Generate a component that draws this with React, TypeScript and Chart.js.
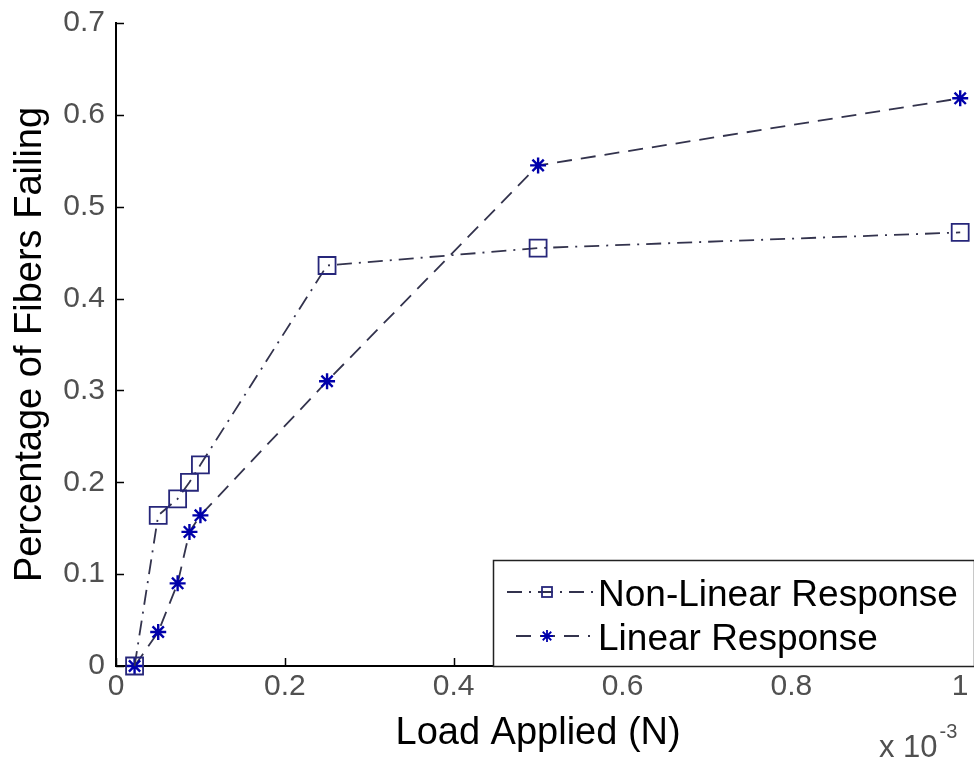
import React, { useEffect, useRef } from "react";
import { Chart, registerables } from "chart.js";

Chart.register(...registerables);

// ---- data (x in units of 1e-3 N) ----
const loadApplied = [0.022, 0.05, 0.073, 0.087, 0.1, 0.25, 0.5, 1.0];
const nonLinearResponse = [0, 0.164, 0.182, 0.2, 0.219, 0.436, 0.455, 0.472];
const linearResponse = [0, 0.037, 0.09, 0.146, 0.164, 0.31, 0.545, 0.618];
const seriesNames = ["Non-Linear Response", "Linear Response"];
const xTickValues = [0, 0.2, 0.4, 0.6, 0.8, 1];
const yTickValues = [0, 0.1, 0.2, 0.3, 0.4, 0.5, 0.6, 0.7];
const xTitle = "Load Applied (N)";
const yTitle = "Percentage of Fibers Failing";
const xMultiplierBase = "x 10";
const xMultiplierExp = "-3";

const FONT = "'Liberation Sans', Arial, Helvetica, sans-serif";
const LINE_COLOR = "#33334d";
const SQUARE_COLOR = "#26267a";
const STAR_COLOR = "#0000aa";
const TICK_COLOR = "#505050";

function drawStar(ctx: CanvasRenderingContext2D, x: number, y: number, r: number) {
  ctx.beginPath();
  for (let i = 0; i < 4; i++) {
    const a = (i * Math.PI) / 4;
    ctx.moveTo(x - r * Math.cos(a), y - r * Math.sin(a));
    ctx.lineTo(x + r * Math.cos(a), y + r * Math.sin(a));
  }
  ctx.stroke();
}

const inwardTicks = {
  id: "inwardTicks",
  afterDraw(chart: any) {
    const { ctx, chartArea, scales } = chart;
    const x = scales.x;
    const y = scales.y;
    ctx.save();
    ctx.strokeStyle = "#000";
    ctx.lineWidth = 1.5;
    ctx.beginPath();
    xTickValues.forEach((v) => {
      const px = Math.round(x.getPixelForValue(v)) + 0.5;
      ctx.moveTo(px, chartArea.bottom);
      ctx.lineTo(px, chartArea.bottom - 8);
    });
    yTickValues.forEach((v) => {
      const py = Math.round(y.getPixelForValue(v)) + 0.5;
      ctx.moveTo(chartArea.left, py);
      ctx.lineTo(chartArea.left + 8, py);
    });
    ctx.stroke();

    // multiplier label
    ctx.fillStyle = TICK_COLOR;
    ctx.textBaseline = "alphabetic";
    ctx.textAlign = "left";
    ctx.font = `31px ${FONT}`;
    ctx.fillText(xMultiplierBase, 879, 757);
    const w = ctx.measureText(xMultiplierBase).width;
    ctx.font = `20px ${FONT}`;
    ctx.fillText(xMultiplierExp, 879 + w + 2, 738);
    ctx.restore();
  },
};

const boxLegend = {
  id: "boxLegend",
  afterDraw(chart: any) {
    const { ctx, chartArea } = chart;
    const datasets = chart.data.datasets;
    const left = 493;
    const right = 974;
    const top = 560;
    const bottom = chartArea.bottom;
    ctx.save();
    ctx.fillStyle = "#fff";
    ctx.fillRect(left, top, right - left, bottom - top);
    ctx.strokeStyle = "#222";
    ctx.lineWidth = 1.5;
    ctx.strokeRect(left + 0.5, top + 0.5, right - left, bottom - top);

    const rows = [596, 640];
    datasets.forEach((ds: any, i: number) => {
      const cy = rows[i];
      const ly = cy - 4;
      ctx.strokeStyle = ds.borderColor;
      ctx.lineWidth = ds.borderWidth;
      ctx.setLineDash(ds.borderDash);
      ctx.beginPath();
      ctx.moveTo(i === 0 ? 507 : 516, ly);
      ctx.lineTo(i === 0 ? 597 : 590, ly);
      ctx.stroke();
      ctx.setLineDash([]);
      ctx.strokeStyle = ds.pointBorderColor;
      ctx.lineWidth = 1.8;
      if (ds.pointStyle === "rect") {
        ctx.strokeRect(542, ly - 5, 10, 10);
      } else {
        drawStar(ctx, 547, ly, 6);
      }
      ctx.fillStyle = "#000";
      ctx.font = `37px ${FONT}`;
      ctx.textAlign = "left";
      ctx.textBaseline = "middle";
      ctx.fillText(ds.label, 598, cy);
    });
    ctx.restore();
  },
};

export default function App() {
  const ref = useRef<HTMLCanvasElement | null>(null);

  useEffect(() => {
    document.body.style.margin = "0";
    document.body.style.overflow = "hidden";
    const canvas = ref.current;
    if (!canvas) return;
    const chart = new Chart(canvas, {
      type: "line",
      data: {
        datasets: [
          {
            label: seriesNames[0],
            data: loadApplied.map((x, i) => ({ x, y: nonLinearResponse[i] })),
            borderColor: LINE_COLOR,
            borderWidth: 1.8,
            borderDash: [15, 7, 2, 7],
            pointStyle: "rect",
            pointRadius: 12,
            pointBorderWidth: 1.8,
            pointBorderColor: SQUARE_COLOR,
            pointBackgroundColor: "rgba(0,0,0,0)",
            fill: false,
            tension: 0,
          },
          {
            label: seriesNames[1],
            data: loadApplied.map((x, i) => ({ x, y: linearResponse[i] })),
            borderColor: LINE_COLOR,
            borderWidth: 1.8,
            borderDash: [15, 9],
            pointStyle: "star",
            pointRadius: 8,
            pointBorderWidth: 2.4,
            pointBorderColor: STAR_COLOR,
            pointBackgroundColor: STAR_COLOR,
            fill: false,
            tension: 0,
          },
        ],
      },
      options: {
        animation: false,
        responsive: false,
        clip: false as any,
        layout: { padding: { top: 23, right: 13, bottom: 0, left: 0 } },
        plugins: {
          legend: { display: false },
          tooltip: { enabled: false },
        },
        scales: {
          x: {
            type: "linear",
            min: 0,
            max: 1,
            afterFit: (s: any) => {
              s.height = 97;
              s.paddingLeft = 0;
              s.paddingRight = 0;
            },
            afterBuildTicks: (s: any) => {
              s.ticks = xTickValues.map((v) => ({ value: v }));
            },
            ticks: {
              font: { family: FONT, size: 30 },
              color: TICK_COLOR,
              padding: 3,
              maxRotation: 0,
              callback: (v: any) => String(Math.round(Number(v) * 10) / 10),
            },
            grid: { display: false, drawTicks: false },
            border: { display: true, color: "#000", width: 2 },
            title: {
              display: true,
              text: xTitle,
              color: "#000",
              font: { family: FONT, size: 38 },
              padding: { top: 7, bottom: 7 },
            },
          },
          y: {
            type: "linear",
            min: 0,
            max: 0.7,
            afterFit: (s: any) => {
              s.width = 116;
              s.paddingTop = 0;
              s.paddingBottom = 0;
            },
            afterBuildTicks: (s: any) => {
              s.ticks = yTickValues.map((v) => ({ value: v }));
            },
            ticks: {
              font: { family: FONT, size: 30 },
              color: TICK_COLOR,
              padding: 11,
              callback: (v: any) => String(Math.round(Number(v) * 10) / 10),
            },
            grid: { display: false, drawTicks: false },
            border: { display: true, color: "#000", width: 2 },
            title: {
              display: true,
              text: yTitle,
              color: "#000",
              font: { family: FONT, size: 38 },
              padding: { top: 8, bottom: 8 },
            },
          },
        },
      },
      plugins: [inwardTicks, boxLegend],
    });
    return () => chart.destroy();
  }, []);

  return (
    <div style={{ width: 974, height: 763, background: "#fff" }}>
      <canvas ref={ref} width={974} height={763} style={{ display: "block" }} />
    </div>
  );
}
